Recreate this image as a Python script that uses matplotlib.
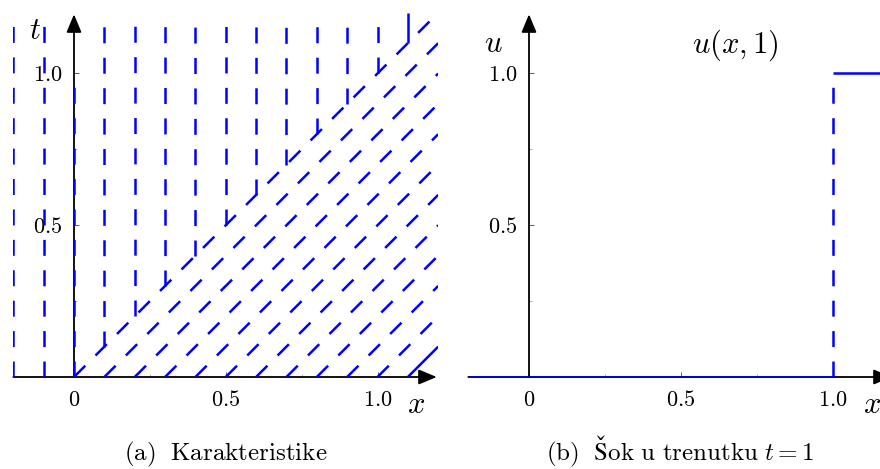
import numpy as np
import matplotlib
matplotlib.use("Agg")
import matplotlib.pyplot as plt

plt.rcParams["mathtext.fontset"] = "cm"
plt.rcParams["lines.scale_dashes"] = False

# Characteristics of the problem (left) and the solution at t = 1 (right)
x_still = [-0.2, -0.1, 0.0]          # vertical characteristics starting at t = 0
t_still_top = [1.2, 1.2, 1.0]
x_bent = [0.1, 0.2, 0.3, 0.4, 0.5, 0.6, 0.7, 0.8, 0.9, 1.0, 1.1]   # vertical, starting on x = t
x_moving = [0.0, 0.1, 0.2, 0.3, 0.4, 0.5, 0.6, 0.7, 0.8, 0.9, 1.0, 1.1]  # x = x0 + t
x_max, t_max = 1.2, 1.2

shock_x = 1.0
u_left, u_right = 0.0, 1.0
x_plot_min, x_plot_max = -0.2, 1.2

tick_major = [0.5, 1.0]
tick_minor = [0.25, 0.75]

BLUE = "#0000ff"
DASH = (0, (11.5, 10.4))
S = 303.5      # pixels per unit, same on both axes
W, H = 880, 469


def line(ax, xs, ts, dashed=True):
    length = np.hypot(xs[1] - xs[0], ts[1] - ts[0])
    ls = DASH if (dashed and length > 0.15) else "-"
    ax.plot(xs, ts, color=BLUE, lw=1.8, ls=ls, dash_capstyle="butt",
            solid_capstyle="butt", zorder=4)


def setup(ax):
    ax.set_xlim(-0.2, 1.2)
    ax.set_ylim(0, 1.2)
    for s in ["top", "right"]:
        ax.spines[s].set_visible(False)
    ax.spines["left"].set_position(("data", 0))
    ax.spines["bottom"].set_position(("data", 0))
    ax.spines["left"].set_color("none")
    ax.spines["bottom"].set_color("none")
    ax.patch.set_alpha(0)
    ax.set_xticks([0] + tick_major, labels=["$0$", "$0.5$", "$1.0$"])
    ax.set_xticks(tick_minor, minor=True)
    ax.set_yticks(tick_major, labels=["$0.5$", "$1.0$"])
    ax.set_yticks(tick_minor, minor=True)
    ax.tick_params(which="major", direction="in", length=3.6, width=0.6,
                   color="#444444", labelsize=16)
    ax.tick_params(which="minor", direction="in", length=2.5, width=0.5,
                   color="#999999")
    ax.tick_params(axis="x", which="major", pad=9)
    ax.tick_params(axis="y", which="major", pad=8.5)
    arrow = dict(arrowstyle="-|>,head_length=0.55,head_width=0.23", lw=1.3,
                 color="black", shrinkA=0, shrinkB=0, mutation_scale=20)
    ax.annotate("", xy=(1.195, 0), xytext=(-0.2, 0), arrowprops=arrow,
                annotation_clip=False, zorder=2)
    ax.annotate("", xy=(0, 1.195), xytext=(0, 0), arrowprops=arrow,
                annotation_clip=False, zorder=2)


fig = plt.figure(figsize=(W / 100, H / 100), dpi=100)
ax1 = fig.add_axes([(74 - 0.2 * S) / W, (H - 377) / H, 1.4 * S / W, 1.2 * S / H])
ax2 = fig.add_axes([(529 - 0.2 * S) / W, (H - 377) / H, 1.4 * S / W, 1.2 * S / H])
setup(ax1)
setup(ax2)

# (a) characteristics
for x0, top in zip(x_still, t_still_top):
    line(ax1, [x0, x0], [0, top])
for x0 in x_bent:
    line(ax1, [x0, x0], [x0, t_max])
for x0 in x_moving:
    t_end = min(t_max, x_max - x0)
    line(ax1, [x0, x0 + t_end], [0, t_end])

# (b) solution at t = 1
line(ax2, [x_plot_min, shock_x], [u_left, u_left], dashed=False)
line(ax2, [shock_x, shock_x], [u_left, u_right])
line(ax2, [shock_x, x_plot_max], [u_right, u_right], dashed=False)


def ftext(px, py, s, size, ha="center"):
    fig.text(px / W, 1 - py / H, s, fontsize=size, ha=ha, va="baseline")


ftext(35, 39, "$t$", 22)
ftext(416, 413, "$x$", 22)
ftext(493, 52, "$u$", 22)
ftext(872, 413, "$x$", 22)
ftext(735, 53, "$u(x,1)$", 22)
ftext(226, 460, r"$\mathrm{(a)\ \ Karakteristike}$", 18)
ftext(680, 460, r"$\mathrm{(b)\ \ Šok\ u\ trenutku}\ t=1$", 18)

fig.savefig("out.png", dpi=100)
